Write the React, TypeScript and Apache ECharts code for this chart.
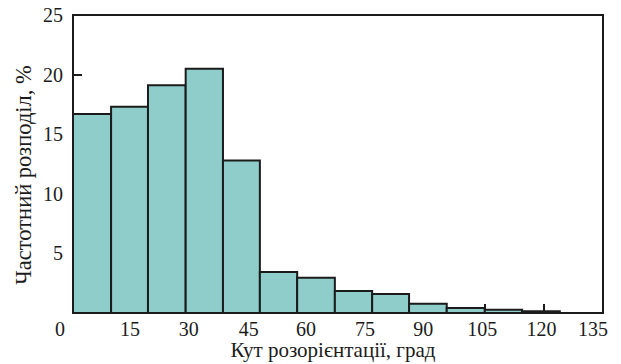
import React, { useEffect, useRef } from "react";
import * as echarts from "echarts";

// Histogram bins (angle, degrees) and their frequency (%)
const binStarts = [0, 9.7, 19.1, 28.7, 38.2, 47.6, 57.1, 66.7, 76.2, 85.6, 95.2, 104.9, 114.4];
const binEnds = [9.7, 19.1, 28.7, 38.2, 47.6, 57.1, 66.7, 76.2, 85.6, 95.2, 104.9, 114.4, 124.0];
const frequencies = [16.7, 17.3, 19.1, 20.5, 12.8, 3.45, 2.95, 1.85, 1.6, 0.78, 0.42, 0.27, 0.15];

const xTicks = [0, 15, 30, 45, 60, 75, 90, 105, 120, 135];
const yTicks = [0, 5, 10, 15, 20, 25];

const xAxisTitle = "Кут розорієнтації, град";
const yAxisTitle = "Частотний розподіл, %";

const FONT = "'Liberation Serif', 'Times New Roman', serif";
const INK = "#1b1b1b";
const FILL = "#8ecdca";

export default function App() {
  const ref = useRef<HTMLDivElement>(null);

  useEffect(() => {
    if (!ref.current) return;
    const chart = echarts.init(ref.current, undefined, { renderer: "svg" });
    const data = binStarts.map((s, i) => [s, binEnds[i], frequencies[i]]);
    const xShift: Record<string, number> = {
      "0": 13, "15": 2, "30": 2, "45": 1, "60": 2.5, "75": 2.5, "90": 3, "105": 3, "120": 2.5, "135": 10,
    };
    const rich: Record<string, any> = {};
    Object.keys(xShift).forEach((k) => {
      rich["s" + k] = {
        fontFamily: FONT,
        fontSize: 20,
        lineHeight: 16,
        color: INK,
        padding: [0, xShift[k] * 2, 0, 0],
      };
    });
    chart.setOption({
      animation: false,
      grid: {
        left: 73,
        right: 18,
        top: 15,
        bottom: 51,
        show: true,
        borderColor: INK,
        borderWidth: 2,
        backgroundColor: "transparent",
        containLabel: false,
        outerBoundsMode: "none",
      },
      xAxis: {
        type: "value",
        min: 0,
        max: 135,
        interval: 15,
        name: xAxisTitle,
        nameLocation: "middle",
        nameGap: 28,
        nameMoveOverlap: false,
        nameTextStyle: {
          fontFamily: FONT,
          fontSize: 21,
          lineHeight: 18,
          color: INK,
          padding: [0, 10, 0, 0],
        },
        axisLine: { show: true, lineStyle: { color: INK, width: 2 } },
        axisTick: { show: true, inside: true, length: 9, lineStyle: { color: INK, width: 2 } },
        splitLine: { show: false },
        axisLabel: {
          margin: 8,
          fontFamily: FONT,
          fontSize: 20,
          lineHeight: 16,
          color: INK,
          showMinLabel: true,
          showMaxLabel: true,
          hideOverlap: false,
          rich,
          formatter: (v: number) => {
            const k = String(v);
            if (!xTicks.includes(v)) return "";
            return xShift[k] !== undefined ? `{s${k}|${k}}` : k;
          },
        },
      },
      yAxis: {
        type: "value",
        min: 0,
        max: 25,
        interval: 5,
        name: yAxisTitle,
        nameLocation: "middle",
        nameGap: 38,
        nameRotate: 90,
        nameMoveOverlap: false,
        nameTextStyle: {
          fontFamily: FONT,
          fontSize: 22.5,
          lineHeight: 24,
          color: INK,
          padding: [0, 22, 0, 0],
        },
        axisLine: { show: true, lineStyle: { color: INK, width: 2 } },
        axisTick: { show: true, inside: true, length: 9, lineStyle: { color: INK, width: 2 } },
        splitLine: { show: false },
        axisLabel: {
          margin: 10,
          fontFamily: FONT,
          fontSize: 20,
          color: INK,
          formatter: (v: number) => (v === 0 || !yTicks.includes(v) ? "" : String(v)),
        },
      },
      series: [
        {
          type: "custom",
          data,
          encode: { x: [0, 1], y: 2 },
          renderItem: (params: any, api: any) => {
            const tl = api.coord([api.value(0), api.value(2)]);
            const br = api.coord([api.value(1), 0]);
            return {
              type: "rect",
              shape: { x: tl[0], y: tl[1], width: br[0] - tl[0], height: br[1] - tl[1] },
              style: { fill: FILL, stroke: INK, lineWidth: 2 },
            };
          },
          z: 1,
        },
      ],
    });
    return () => chart.dispose();
  }, []);

  return (
    <div
      ref={ref}
      style={{ position: "fixed", left: 0, top: 0, width: 621, height: 364, background: "#fff" }}
    />
  );
}
